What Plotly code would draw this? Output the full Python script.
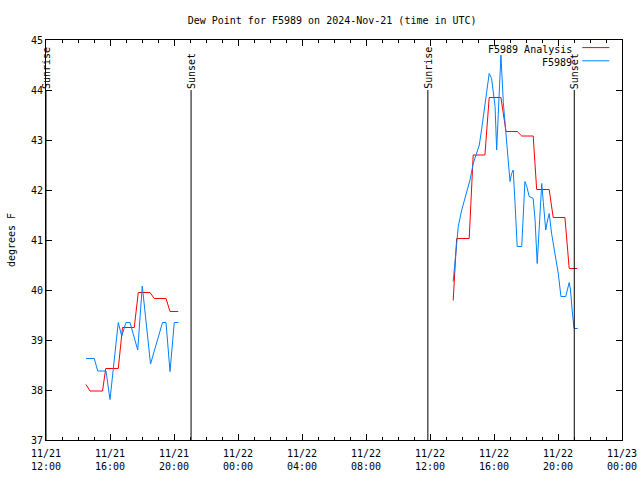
import plotly.graph_objects as go

# ---- data ----
analysis_times = [
    "2024-11-21 14:30", "2024-11-21 14:45", "2024-11-21 15:32", "2024-11-21 15:44",
    "2024-11-21 16:31", "2024-11-21 16:47", "2024-11-21 17:31", "2024-11-21 17:46",
    "2024-11-21 18:30", "2024-11-21 18:46", "2024-11-21 19:30", "2024-11-21 19:45",
    "2024-11-21 20:16",
    "2024-11-22 00:00",
    "2024-11-22 13:27", "2024-11-22 13:31", "2024-11-22 13:40", "2024-11-22 14:27",
    "2024-11-22 14:36", "2024-11-22 14:42", "2024-11-22 15:26", "2024-11-22 15:42",
    "2024-11-22 16:26", "2024-11-22 16:45", "2024-11-22 17:27", "2024-11-22 17:44",
    "2024-11-22 18:27", "2024-11-22 18:40", "2024-11-22 19:27", "2024-11-22 19:42",
    "2024-11-22 20:26", "2024-11-22 20:42", "2024-11-22 21:12",
]
analysis_vals = [
    38.11, 37.98, 37.98, 38.43,
    38.43, 39.25, 39.25, 39.95,
    39.95, 39.83, 39.83, 39.57,
    39.57,
    None,
    39.79, 40.27, 41.03, 41.03,
    42.07, 42.70, 42.70, 43.85,
    43.85, 43.17, 43.17, 43.08,
    43.08, 42.01, 42.01, 41.45,
    41.45, 40.43, 40.43,
]

obs_times = [
    "2024-11-21 14:30", "2024-11-21 15:01", "2024-11-21 15:14", "2024-11-21 15:45",
    "2024-11-21 16:00", "2024-11-21 16:31", "2024-11-21 16:44", "2024-11-21 17:00",
    "2024-11-21 17:15", "2024-11-21 17:44", "2024-11-21 18:01", "2024-11-21 18:32",
    "2024-11-21 19:17", "2024-11-21 19:30", "2024-11-21 19:45", "2024-11-21 20:01",
    "2024-11-21 20:16",
    "2024-11-22 00:00",
    "2024-11-22 13:27", "2024-11-22 13:34", "2024-11-22 13:40", "2024-11-22 13:46",
    "2024-11-22 13:59", "2024-11-22 14:17", "2024-11-22 14:30", "2024-11-22 14:42",
    "2024-11-22 15:05", "2024-11-22 15:14", "2024-11-22 15:26", "2024-11-22 15:42",
    "2024-11-22 15:51", "2024-11-22 16:04", "2024-11-22 16:10", "2024-11-22 16:26",
    "2024-11-22 16:35", "2024-11-22 16:41", "2024-11-22 16:48", "2024-11-22 16:53",
    "2024-11-22 17:00", "2024-11-22 17:06", "2024-11-22 17:12", "2024-11-22 17:19",
    "2024-11-22 17:27", "2024-11-22 17:44", "2024-11-22 17:56", "2024-11-22 18:04",
    "2024-11-22 18:12", "2024-11-22 18:27", "2024-11-22 18:34", "2024-11-22 18:42",
    "2024-11-22 18:50", "2024-11-22 18:59", "2024-11-22 19:05", "2024-11-22 19:14",
    "2024-11-22 19:21", "2024-11-22 19:27", "2024-11-22 19:36", "2024-11-22 19:49",
    "2024-11-22 20:01", "2024-11-22 20:11", "2024-11-22 20:29", "2024-11-22 20:42",
    "2024-11-22 20:47", "2024-11-22 20:53", "2024-11-22 21:00", "2024-11-22 21:14",
]
obs_vals = [
    38.63, 38.63, 38.38, 38.38,
    37.81, 39.35, 39.08, 39.35,
    39.35, 38.80, 40.08, 38.52,
    39.35, 39.35, 38.37, 39.35,
    39.35,
    None,
    40.17, 40.57, 41.05, 41.27,
    41.60, 41.93, 42.20, 42.53,
    42.90, 43.23, 43.73, 44.33,
    44.23, 43.67, 42.80, 44.70,
    43.75, 43.33, 42.87, 42.47,
    42.17, 42.33, 42.40, 41.73,
    40.87, 40.87, 42.17, 42.05,
    41.87, 41.83, 41.40, 40.53,
    41.40, 42.13, 41.75, 41.20,
    41.40, 41.53, 41.13, 40.73,
    40.33, 39.87, 39.87, 40.15,
    40.00, 39.60, 39.23, 39.23,
]

sun_event_names = ["Sunrise", "Sunset", "Sunrise", "Sunset"]
sun_event_times = ["2024-11-21 12:00", "2024-11-21 21:04", "2024-11-22 11:52", "2024-11-22 21:01"]
sun_line_bottom = 37
sun_line_top = 44

x_tick_vals = [
    "2024-11-21 12:00", "2024-11-21 16:00", "2024-11-21 20:00", "2024-11-22 00:00",
    "2024-11-22 04:00", "2024-11-22 08:00", "2024-11-22 12:00", "2024-11-22 16:00",
    "2024-11-22 20:00", "2024-11-23 00:00",
]
x_tick_labels = [
    "11/21<br>12:00", "11/21<br>16:00", "11/21<br>20:00", "11/22<br>00:00",
    "11/22<br>04:00", "11/22<br>08:00", "11/22<br>12:00", "11/22<br>16:00",
    "11/22<br>20:00", "11/23<br>00:00",
]
y_tick_vals = [37, 38, 39, 40, 41, 42, 43, 44, 45]

series_names = ["F5989 Analysis", "F5989"]
series_colors = ["#ff0000", "#0080ff"]

FONT = "DejaVu Sans Mono"

fig = go.Figure()
fig.add_trace(go.Scatter(x=analysis_times, y=analysis_vals, mode="lines",
                         name=series_names[0], connectgaps=False,
                         line=dict(color=series_colors[0], width=1)))
fig.add_trace(go.Scatter(x=obs_times, y=obs_vals, mode="lines",
                         name=series_names[1], connectgaps=False,
                         line=dict(color=series_colors[1], width=1)))

for name, t in zip(sun_event_names, sun_event_times):
    fig.add_shape(type="line", xref="x", yref="y", x0=t, x1=t,
                  y0=sun_line_bottom, y1=sun_line_top,
                  line=dict(color="black", width=1))
    fig.add_annotation(x=t, y=sun_line_top, xref="x", yref="y", text=name,
                       textangle=-90, showarrow=False, xanchor="center",
                       yanchor="bottom", yshift=-1,
                       font=dict(family=FONT, size=10, color="black"))

# legend drawn gnuplot-style: text on the left, line sample on the right
legend_rows_y = [0.977, 0.944]
for name, color, ly in zip(series_names, series_colors, legend_rows_y):
    fig.add_annotation(x=0.9175, y=ly, xref="paper", yref="paper", text=name,
                       showarrow=False, xanchor="right", yanchor="middle",
                       font=dict(family=FONT, size=10, color="black"))
    fig.add_shape(type="line", xref="paper", yref="paper", x0=0.931, x1=0.978,
                  y0=ly + 0.004, y1=ly + 0.004, line=dict(color=color, width=1))

fig.update_layout(
    width=640, height=480,
    margin=dict(l=46, r=18, t=40, b=40, autoexpand=False),
    paper_bgcolor="white", plot_bgcolor="white",
    showlegend=False,
    font=dict(family=FONT, size=10, color="black"),
    title=dict(text="Dew Point for F5989 on 2024-Nov-21 (time in UTC)",
               x=0.519, xanchor="center", y=0.958, yanchor="middle",
               font=dict(family=FONT, size=10, color="black")),
)
fig.update_xaxes(
    range=["2024-11-21 12:00", "2024-11-23 00:00"], automargin=False,
    tickmode="array", tickvals=x_tick_vals, ticktext=x_tick_labels,
    ticks="inside", ticklen=6, tickcolor="black", tickwidth=1,
    ticklabelstandoff=4,
    showline=True, linecolor="black", linewidth=1, mirror="allticks",
    showgrid=False, zeroline=False,
    tickfont=dict(family=FONT, size=10, color="black"),
    minor=dict(tickmode="linear", tick0="2024-11-21 12:00", dtick=3600000,
               ticks="inside", ticklen=3, tickcolor="black", showgrid=False),
)
fig.update_yaxes(
    range=[37, 45], tickmode="array", tickvals=y_tick_vals, automargin=False,
    ticks="inside", ticklen=6, tickcolor="black", tickwidth=1,
    showline=True, linecolor="black", linewidth=1, mirror="allticks",
    showgrid=False, zeroline=False,
    tickfont=dict(family=FONT, size=10, color="black"),
    title=dict(text="degrees F", font=dict(family=FONT, size=10, color="black"),
               standoff=13),
)

# remove the browser's default 8px page margin so the 640x480 figure fills the window
fig.write_html("out.html",
               config={"displayModeBar": False},
               post_script="document.body.style.margin='0';document.body.style.overflow='hidden';")
